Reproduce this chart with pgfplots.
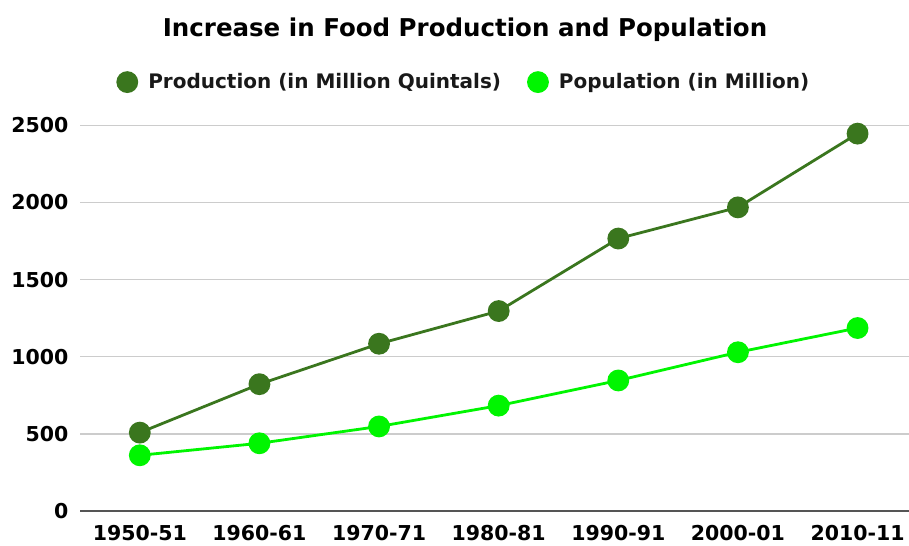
\documentclass[border=0pt]{standalone}
\usepackage{pgfplots}
\pgfplotsset{compat=1.18}
\usepackage{fontspec}
\setmainfont{DejaVu Sans}
\definecolor{prod}{HTML}{3A761E}
\definecolor{pop}{HTML}{00F500}
\definecolor{gridc}{HTML}{CCCCCC}
\definecolor{zeroc}{HTML}{555555}
\begin{document}
\begin{tikzpicture}
\begin{axis}[at={(80bp,35bp)}, anchor=south west, scale only axis,
  width=829bp, height=385.7bp,
  xmin=-0.5, xmax=6.43, ymin=0, ymax=2500,
  xtick={0,...,6},
  xticklabels={1950-51,1960-61,1970-71,1980-81,1990-91,2000-01,2010-11},
  ytick={0,500,1000,1500,2000,2500},
  /pgf/number format/assume math mode=true,
  /pgf/number format/1000 sep={},
  ticklabel style={font=\fontsize{20.5bp}{24bp}\selectfont\bfseries},
  xticklabel style={yshift=-11bp},
  yticklabel style={xshift=-8bp},
  axis line style={draw=none},
  tick style={draw=none},
  ymajorgrids, grid style={color=gridc, line width=1.3bp},
  extra y ticks={0}, extra y tick labels={},
  extra y tick style={grid style={color=zeroc, line width=1.3bp}},
  clip=false,
  legend columns=2,
  legend style={at={(0.463,1.112)}, anchor=center, draw=none, fill=none,
    font=\fontsize{20bp}{24bp}\selectfont\bfseries, text=black!90,
    /tikz/every even column/.append style={column sep=24bp},
    inner sep=0pt},
  legend image code/.code={\fill[#1] (0bp,0bp) circle (9.5bp); \path[draw=none,fill=none] (0bp,0bp) -- (19bp,0bp);},
]
\addplot[color=prod, line width=2.8bp, mark=*, mark size=9.5bp] coordinates {
(0,508) (1,822) (2,1084) (3,1296) (4,1766) (5,1968) (6,2446)};
\addlegendentry{Production (in Million Quintals)}
\addplot[color=pop, line width=2.8bp, mark=*, mark size=9.5bp] coordinates {
(0,361) (1,439) (2,548) (3,683) (4,846) (5,1029) (6,1186)};
\addlegendentry{Population (in Million)}
\end{axis}
\node at (465bp,516bp) {\fontsize{24.5bp}{28bp}\selectfont\bfseries Increase in Food Production and Population};
\pgfresetboundingbox
\path (0bp,0bp) rectangle (909bp,546bp);
\end{tikzpicture}
\end{document}
